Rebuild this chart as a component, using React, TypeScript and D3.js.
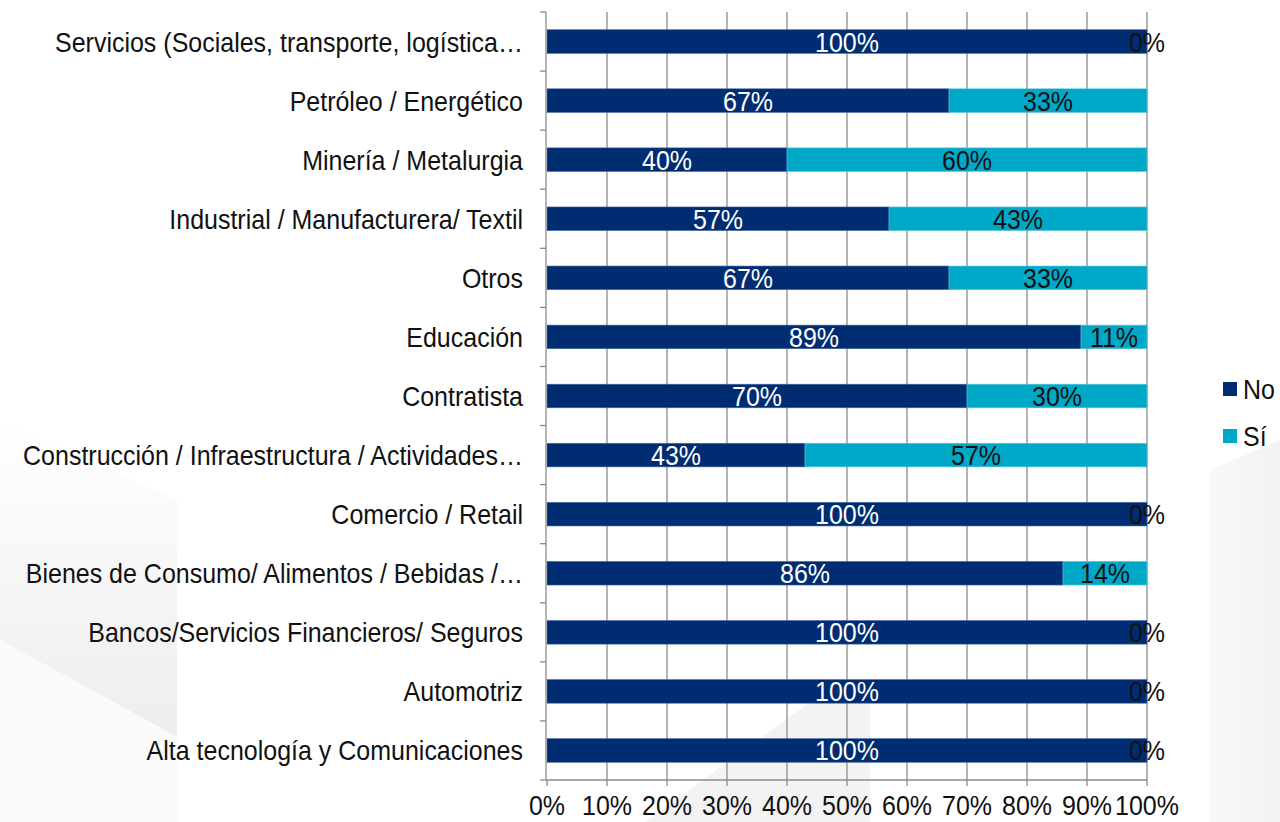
import React, { useEffect, useRef } from "react";
import * as d3 from "d3";

const categories = [
  "Servicios (Sociales, transporte, logística…",
  "Petróleo / Energético",
  "Minería / Metalurgia",
  "Industrial / Manufacturera/ Textil",
  "Otros",
  "Educación",
  "Contratista",
  "Construcción / Infraestructura / Actividades…",
  "Comercio / Retail",
  "Bienes de Consumo/ Alimentos / Bebidas /…",
  "Bancos/Servicios Financieros/ Seguros",
  "Automotriz",
  "Alta tecnología y Comunicaciones",
];

const noValues = [100, 67, 40, 57, 67, 89, 70, 43, 100, 86, 100, 100, 100];
const siValues = [0, 33, 60, 43, 33, 11, 30, 57, 0, 14, 0, 0, 0];

const seriesNames = ["No", "Sí"];
const xTicks = [0, 10, 20, 30, 40, 50, 60, 70, 80, 90, 100];

const W = 1280;
const H = 822;
const margin = { top: 12, right: 133, bottom: 42, left: 547 };
const colors = ["#002D72", "#00A8C8"];
const font = "Liberation Sans, Arial, sans-serif";
const fs = 25;
const stretch = 1.1; // text in the picture is a bit taller than wide

export default function App() {
  const ref = useRef<SVGSVGElement>(null);

  useEffect(() => {
    const svg = d3.select(ref.current);
    svg.selectAll("*").remove();

    const addText = (parent: any, tx: number, ty: number, txt: string, anchor: string, fill: string) =>
      parent.append("text")
        .attr("transform", `translate(${tx},${ty}) scale(1,${stretch})`)
        .attr("text-anchor", anchor)
        .attr("font-family", font)
        .attr("font-size", fs)
        .attr("fill", fill)
        .text(txt);

    // faint background shapes
    const defs = svg.append("defs");
    const g1 = defs.append("linearGradient").attr("id", "g1").attr("x1", 0).attr("x2", 0).attr("y1", 0).attr("y2", 1);
    g1.append("stop").attr("offset", 0).attr("stop-color", "#ffffff");
    g1.append("stop").attr("offset", 1).attr("stop-color", "#ededed");
    const g2 = defs.append("linearGradient").attr("id", "g2").attr("x1", 0).attr("x2", 1).attr("y1", 0).attr("y2", 0);
    g2.append("stop").attr("offset", 0).attr("stop-color", "#f6f6f6");
    g2.append("stop").attr("offset", 1).attr("stop-color", "#ececec");
    const bg = svg.append("g");
    bg.append("path").attr("d", "M0,420 L177,500 L177,737 L0,640 Z").attr("fill", "url(#g1)");
    bg.append("path").attr("d", "M0,640 L177,737 L177,822 L0,822 Z").attr("fill", "#fafafa");
    bg.append("path").attr("d", "M645,822 L820,695 L870,700 L870,822 Z").attr("fill", "#f3f3f3");
    bg.append("path").attr("d", "M1210,470 L1280,440 L1280,822 L1210,822 Z").attr("fill", "url(#g2)").attr("opacity", 0.7);

    const x = d3.scaleLinear().domain([0, 100]).range([margin.left, W - margin.right]);
    const y = d3.scaleBand().domain(categories).range([margin.top, 780]).paddingInner(0.6).paddingOuter(0.3);
    const yOuter = d3.scaleBand().domain(categories).range([margin.top, 780]);

    // gridlines
    svg.append("g")
      .selectAll("line")
      .data(xTicks.slice(1))
      .join("line")
      .attr("x1", (d) => x(d))
      .attr("x2", (d) => x(d))
      .attr("y1", margin.top)
      .attr("y2", 780)
      .attr("stroke", "#8c8c8c")
      .attr("stroke-width", 1.3);

    const stacked = categories.map((c, i) => ({ cat: c, vals: [noValues[i], siValues[i]] }));
    const rows = svg.append("g").selectAll("g").data(stacked).join("g");

    rows.each(function (d) {
      const g = d3.select(this);
      let start = 0;
      d.vals.forEach((v, k) => {
        const x0 = x(start);
        const x1 = x(start + v);
        if (v > 0) {
          g.append("rect")
            .attr("x", x0)
            .attr("y", y(d.cat)!)
            .attr("width", x1 - x0)
            .attr("height", y.bandwidth())
            .attr("fill", colors[k])
            .attr("stroke", k === 0 ? "#4a6da3" : "#5cc6dc")
            .attr("stroke-width", 0.6);
        }
        addText(g, (x0 + x1) / 2, y(d.cat)! + y.bandwidth() / 2 + 10, `${v}%`, "middle", k === 0 ? "#ffffff" : "#111111");
        start += v;
      });
    });

    // y axis
    const yAxis = svg.append("g");
    yAxis.append("line")
      .attr("x1", margin.left - 1).attr("x2", margin.left - 1)
      .attr("y1", margin.top).attr("y2", 780)
      .attr("stroke", "#8c8c8c").attr("stroke-width", 1.3);
    const bounds = categories.map((c) => yOuter(c)!).concat([780]);
    yAxis.selectAll("line.tk").data(bounds).join("line")
      .attr("class", "tk")
      .attr("x1", margin.left - 7).attr("x2", margin.left - 1)
      .attr("y1", (d) => d).attr("y2", (d) => d)
      .attr("stroke", "#8c8c8c").attr("stroke-width", 1.3);
    categories.forEach((c) => addText(yAxis, 523, y(c)! + y.bandwidth() / 2 + 10, c, "end", "#111111"));

    // x axis
    const xAxis = svg.append("g");
    xAxis.append("line")
      .attr("x1", margin.left - 1).attr("x2", x(100))
      .attr("y1", 780).attr("y2", 780)
      .attr("stroke", "#8c8c8c").attr("stroke-width", 1.3);
    xAxis.selectAll("line.tk").data(xTicks).join("line")
      .attr("class", "tk")
      .attr("x1", (d) => x(d)).attr("x2", (d) => x(d))
      .attr("y1", 780).attr("y2", 786)
      .attr("stroke", "#8c8c8c").attr("stroke-width", 1.3);
    xTicks.forEach((t) => addText(xAxis, x(t), 815, `${t}%`, "middle", "#111111"));

    // legend
    const leg = svg.append("g");
    seriesNames.forEach((s, i) => {
      leg.append("rect").attr("x", 1223).attr("y", 382 + i * 47).attr("width", 14).attr("height", 14).attr("fill", colors[i]);
      addText(leg, 1243, 382 + i * 47 + 17, s, "start", "#111111");
    });
  }, []);

  return (
    <svg
      ref={ref}
      width={W}
      height={H}
      style={{ position: "absolute", left: 0, top: 0, display: "block", background: "#ffffff" }}
    />
  );
}
